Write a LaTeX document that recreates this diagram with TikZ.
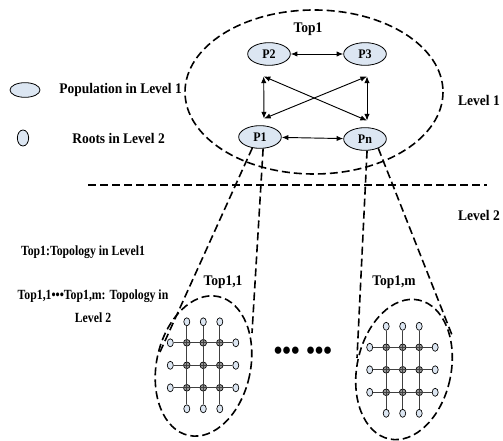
\documentclass[tikz,border=0pt]{standalone}
\usepackage{fontspec}
\usepackage{xcolor}
\usetikzlibrary{arrows.meta,shapes.geometric}
\newfontfamily\lblfont{Liberation Serif}[FakeStretch=0.92]
\newfontfamily\notefont{Liberation Serif}[FakeStretch=0.84]
\definecolor{popfill}{RGB}{220,230,242}

\tikzset{
  pop/.style={draw, ellipse, fill=popfill, minimum width=32pt, minimum height=17pt, inner sep=0pt, line width=0.6pt, font=\lblfont\bfseries\fontsize{9.8}{11}\selectfont},
  root/.style={draw, ellipse, fill=popfill, minimum width=4.5pt, minimum height=6pt, inner sep=0pt, line width=0.5pt},
  hub/.style={draw, circle, fill=black!40, minimum size=5pt, inner sep=0pt, line width=0.5pt},
  mesh/.style={draw=black!75, line width=0.7pt},
  link/.style={{Latex[length=5pt,width=4pt]}-{Latex[length=5pt,width=4pt]}, line width=0.7pt},
  bound/.style={dash pattern=on 6pt off 3pt, line width=1.2pt},
  lbl/.style={font=\lblfont\bfseries\fontsize{11}{13}\selectfont, inner sep=0pt},
  note/.style={font=\notefont\bfseries\fontsize{10.5}{17}\selectfont, inner sep=0pt}
}

\begin{document}
\begin{tikzpicture}[x=0.75pt,y=0.75pt,yscale=-1,xscale=1]
    \useasboundingbox (0,0) rectangle (503,441);

    %Shape: Ellipse [Top1, level 1]
    \draw[bound] (314,92) ellipse (129 and 82);
    %Straight Lines [level divider]
    \draw[bound] (88,185) -- (487,185);
    %Shape: Ellipse [Top1,1 and Top1,m]
    \draw[bound, rotate around={12:(203.5,366)}] (203.5,366) ellipse (47 and 71);
    \draw[bound, rotate around={12:(404,369.5)}] (404,369.5) ellipse (47 and 71);

    % Populations
    \node[pop] (p2) at (269,54) {P2};
    \node[pop] (p3) at (365,54) {P3};
    \node[pop] (p1) at (260,137) {P1};
    \node[pop] (pn) at (365,139) {Pn};

    \draw[link] (p2) -- (p3);
    \draw[link] (p1) -- (pn);
    \draw[link] ([yshift=8pt,xshift=-4pt]p2.south) -- ([yshift=-5pt,xshift=3pt]p1.north);
    \draw[link] ([yshift=8pt,xshift=1.5pt]p3.south) -- ([yshift=-5pt,xshift=1.5pt]pn.north);
    \draw[link] ([yshift=8pt,xshift=-4pt]p2.south) -- ([yshift=-5pt,xshift=1.5pt]pn.north);
    \draw[link] ([yshift=8pt,xshift=1.5pt]p3.south) -- ([yshift=-5pt,xshift=3pt]p1.north);

    % Roots of level 2
    \coordinate (a1) at (160,352);
    \coordinate (a2) at (252,333);
    \coordinate (b1) at (357,358);
    \coordinate (b2) at (452,335);
    \draw[bound] (p1.235) -- (a1);
    \draw[bound] (p1.285) -- (a2);
    \draw[bound] (pn.280) -- (b1);
    \draw[bound] (pn.325) -- (b2);

    % Grids
    \foreach \g/\cx/\cy in {a/203.3/365.3, b/402.7/369.8} {
      \foreach \c/\dx in {1/-16.5, 2/0, 3/16.5} {
        \node[root] (\g t\c) at (\cx+\dx,\cy-43.5) {};
        \node[root] (\g b\c) at (\cx+\dx,\cy+43.5) {};
      }
      \foreach \r/\dy in {1/-22.5, 2/0, 3/22.5} {
        \node[root] (\g l\r) at (\cx-33,\cy+\dy) {};
        \node[root] (\g r\r) at (\cx+32.5,\cy+\dy) {};
        \foreach \c/\dx in {1/-16.5, 2/0, 3/16.5}
          \node[hub] (\g h\r\c) at (\cx+\dx,\cy+\dy) {};
      }
      \foreach \k in {1,2,3} {
        \draw[mesh] (\g t\k) -- (\g b\k);
        \draw[mesh] (\g l\k) -- (\g r\k);
      }
    }

    % Legend
    \node[pop, minimum width=22.5pt, minimum height=11pt] (legpop) at (25,90) {};
    \node[pop, minimum width=8.5pt, minimum height=12pt] (legroot) at (23,138) {};
    \node[lbl, anchor=west] (poptxt) at (59,90) {Population in Level 1};
    \node[lbl, anchor=west] (roottxt) at (72,138) {Roots in Level 2};

    % Text Node
    \node[lbl] (toplbl) at (308,29) {Top1};
    \node[lbl, anchor=east] (lv1) at (500,100) {Level 1};
    \node[lbl, anchor=east] (lv2) at (500,215) {Level 2};
    \node[lbl] (t11lbl) at (223,282) {Top1,1};
    \node[lbl] (t1mlbl) at (394,282) {Top1,m};
    \node[note] (note1) at (83,252) {Top1:Topology in Level1};
    \node[note, align=center] (note2) at (93,306) {Top1,1•••Top1,m: Topology in\\Level 2};
    \node[font=\lblfont\bfseries\fontsize{20}{20}\selectfont, inner sep=0pt] (dots) at (303,353) {•••\hspace{5pt}•••};
\end{tikzpicture}
\end{document}
